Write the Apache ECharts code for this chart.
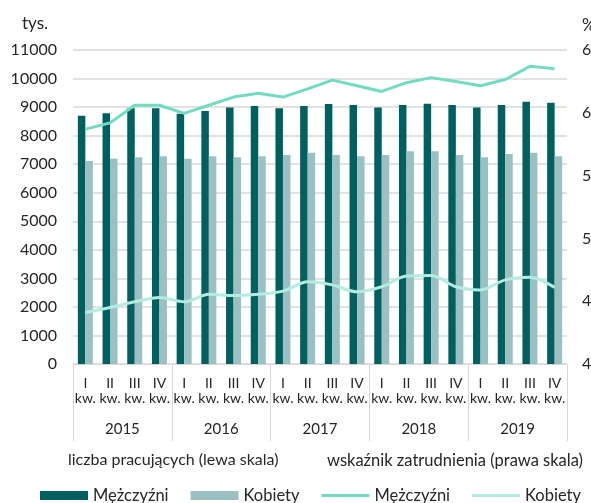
<!DOCTYPE html>
<html>
<head>
<meta charset="utf-8">
<script src="https://cdn.jsdelivr.net/npm/echarts@6/dist/echarts.min.js"></script>
<style>
  html, body { margin: 0; padding: 0; background: #fff; }
  #chart { width: 591px; height: 503px; }
</style>
</head>
<body>
<div id="chart"></div>
<script>
const quarters = ["I\nkw.", "II\nkw.", "III\nkw.", "IV\nkw."];
const years = ["2015", "2016", "2017", "2018", "2019"];
const categories = years.flatMap(() => quarters);

// liczba pracujących, tys. (lewa skala)
const menWorkers = [8700, 8780, 8960, 8960, 8770, 8860, 8990, 9040, 8960, 9040,
  9110, 9070, 8990, 9070, 9120, 9070, 8990, 9070, 9190, 9150];
const womenWorkers = [7110, 7190, 7240, 7280, 7190, 7280, 7240, 7280, 7320, 7400,
  7320, 7280, 7320, 7450, 7450, 7320, 7240, 7360, 7400, 7280];

// wskaźnik zatrudnienia, % (prawa skala)
const menRate = [58.7, 59.2, 60.6, 60.6, 59.95, 60.6, 61.25, 61.55, 61.25, 61.9,
  62.6, 62.15, 61.7, 62.4, 62.8, 62.5, 62.15, 62.65, 63.7, 63.5];
const womenRate = [44.1, 44.5, 44.95, 45.3, 44.95, 45.55, 45.45, 45.55, 45.8, 46.55,
  46.3, 45.75, 46.15, 47.0, 47.05, 46.15, 45.9, 46.7, 46.9, 46.1];

const FONT = "Lato";
const TXT = "#262626";
const GRID = "#d9d9d9";
// thin line icon for line-series legend entries (degenerate points keep the 9px box)
const LINE_ICON = "path://M0,0L0,0ZM0,3L48,3L48,6L0,6ZM48,9L48,9Z";

const chart = echarts.init(document.getElementById("chart"));

chart.setOption({
  backgroundColor: "#fff",
  animation: false,
  textStyle: { fontFamily: FONT, color: TXT },
  grid: { left: 73, right: 24, top: 50, bottom: 139, outerBoundsMode: "none" },
  legend: {
    left: 35,
    top: 482,
    width: 900,
    itemGap: 22,
    itemWidth: 48,
    itemHeight: 9,
    textStyle: { fontSize: 16.5, color: TXT, fontFamily: FONT },
    formatter: (name) => name.trim(),
    data: [
      { name: "Mężczyźni", icon: "rect" },
      { name: "Kobiety", icon: "rect" },
      { name: "Mężczyźni ", icon: LINE_ICON },
      { name: "Kobiety ", icon: LINE_ICON },
    ],
  },
  graphic: [
    { type: "text", left: 22, top: 15, style: { text: "tys.", fontSize: 17, fill: TXT, fontFamily: FONT } },
    { type: "text", left: 582, top: 17, style: { text: "%", fontSize: 17, fill: TXT, fontFamily: FONT } },
    { type: "text", left: 68, top: 452, style: { text: "liczba pracujących (lewa skala)", fontSize: 16, fill: TXT, fontFamily: FONT } },
    { type: "text", left: 327, top: 452, style: { text: "wskaźnik zatrudnienia (prawa skala)", fontSize: 16.5, fill: TXT, fontFamily: FONT } },
  ],
  xAxis: [
    {
      type: "category",
      data: categories,
      axisLine: { lineStyle: { color: GRID } },
      axisTick: { show: false },
      axisLabel: { interval: 0, margin: 12, fontSize: 14, lineHeight: 15, color: TXT },
    },
    {
      type: "category",
      position: "bottom",
      offset: 0,
      data: years,
      axisLine: { show: false },
      axisTick: { show: true, interval: 0, length: 77, lineStyle: { color: GRID } },
      axisLabel: { interval: 0, margin: 58, fontSize: 15, color: TXT },
    },
  ],
  yAxis: [
    {
      type: "value",
      min: 0,
      max: 11000,
      interval: 1000,
      axisLine: { show: false },
      axisTick: { show: false },
      axisLabel: { margin: 16, fontSize: 16, color: TXT, formatter: (v) => String(v) },
      splitLine: { lineStyle: { color: GRID, width: 1.5 } },
    },
    {
      type: "value",
      position: "right",
      min: 40,
      max: 65,
      interval: 5,
      axisLine: { show: false },
      axisTick: { show: false },
      axisLabel: { margin: 15, fontSize: 16, color: TXT },
      splitLine: { show: false },
    },
  ],
  series: [
    {
      name: "Mężczyźni",
      type: "bar",
      data: menWorkers,
      barWidth: 7.5,
      barGap: "0%",
      itemStyle: { color: "#005f5f" },
    },
    {
      name: "Kobiety",
      type: "bar",
      data: womenWorkers,
      barWidth: 7.5,
      itemStyle: { color: "#9bc0c2" },
    },
    {
      name: "Mężczyźni ",
      type: "line",
      yAxisIndex: 1,
      data: menRate,
      showSymbol: false,
      symbol: "none",
      lineStyle: { color: "#72dcc3", width: 3 },
      itemStyle: { color: "#72dcc3" },
    },
    {
      name: "Kobiety ",
      type: "line",
      yAxisIndex: 1,
      data: womenRate,
      smooth: 0.3,
      showSymbol: false,
      symbol: "none",
      lineStyle: { color: "#b3ede1", width: 3 },
      itemStyle: { color: "#b3ede1" },
    },
  ],
});
</script>
</body>
</html>
